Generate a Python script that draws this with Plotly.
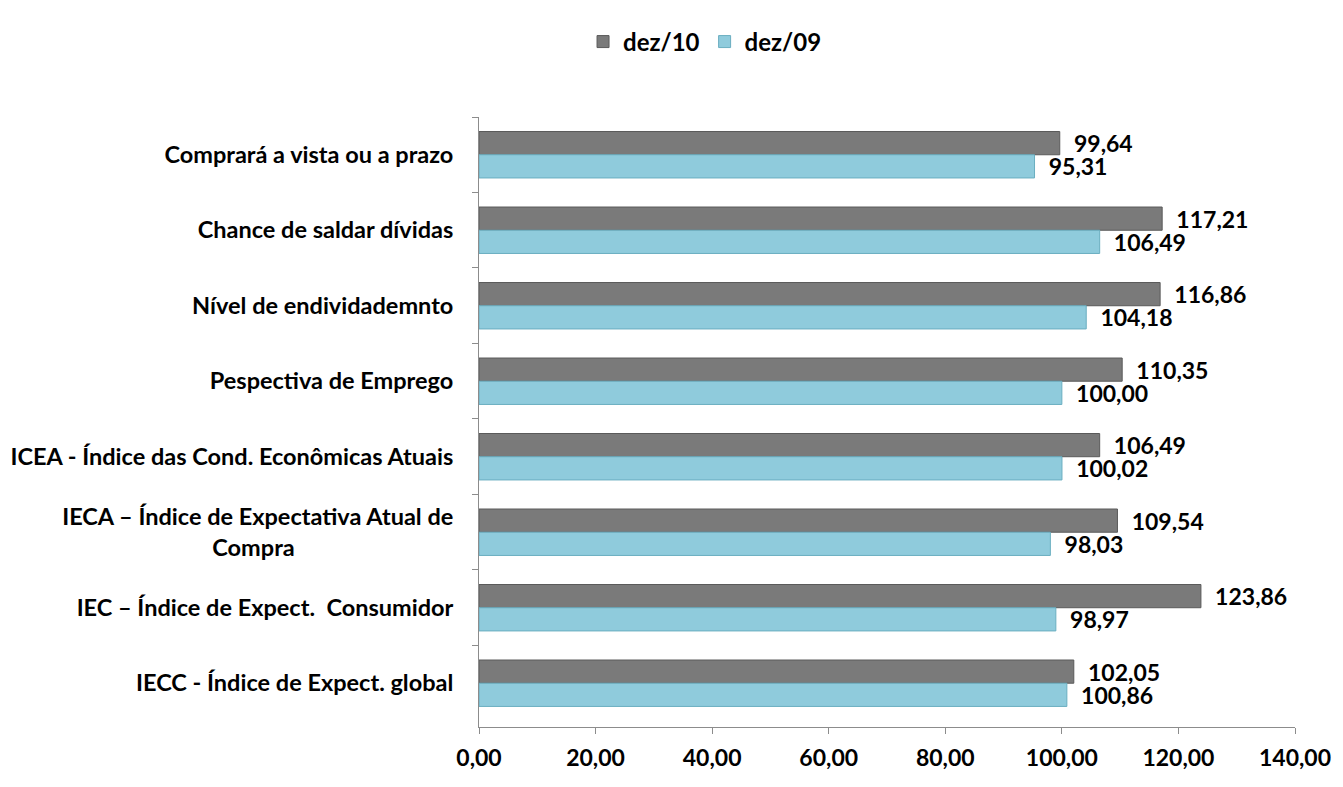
import plotly.graph_objects as go

categories = [
    "Comprará a vista ou a prazo",
    "Chance de saldar dívidas",
    "Nível de endividademnto",
    "Pespectiva de Emprego",
    "ICEA - Índice das Cond. Econômicas Atuais",
    "IECA – Índice de Expectativa Atual de<br>Compra" + "\u2003" * 9,
    "IEC – Índice de Expect.  Consumidor",
    "IECC - Índice de Expect. global",
]
dez10 = [99.64, 117.21, 116.86, 110.35, 106.49, 109.54, 123.86, 102.05]
dez09 = [95.31, 106.49, 104.18, 100.00, 100.02, 98.03, 98.97, 100.86]
x_ticks = [0, 20, 40, 60, 80, 100, 120, 140]

FONT = "Lato"
GRAY = "#7a7a7a"
BLUE = "#8fcbdc"

fig = go.Figure()
fig.add_trace(go.Bar(
    name="dez/10", y=categories, x=dez10, orientation="h",
    marker=dict(color=GRAY, line=dict(color="#5a5a5a", width=1)),
    texttemplate="\u00a0\u00a0%{x:.2f}", textposition="outside", cliponaxis=False,
    constraintext="none",
    textfont=dict(family=FONT, size=23, color="black", weight="bold"),
))
fig.add_trace(go.Bar(
    name="dez/09", y=categories, x=dez09, orientation="h",
    marker=dict(color=BLUE, line=dict(color="#6aaec0", width=1)),
    texttemplate="\u00a0\u00a0%{x:.2f}", textposition="outside", cliponaxis=False,
    constraintext="none",
    textfont=dict(family=FONT, size=23, color="black", weight="bold"),
))

# body of the page has an 8px margin, so the figure is 8px smaller than the window
fig.update_layout(
    width=1335, height=779,
    margin=dict(l=471, r=48, t=109, b=60),
    paper_bgcolor="white", plot_bgcolor="white",
    barmode="group", bargap=0.385, bargroupgap=0.0,
    separators=",.",
    font=dict(family=FONT, size=23.5, color="black"),
    legend=dict(orientation="h", x=0.277, y=1.123, xanchor="center", yanchor="middle",
                font=dict(family=FONT, size=24, color="black", weight="bold"),
                itemwidth=30, tracegroupgap=0),
    xaxis=dict(range=[0, 140], tickvals=x_ticks, tickformat=".2f", automargin=False,
               showgrid=False, zeroline=False, showline=True, linecolor="#8c8c8c", linewidth=1,
               ticks="outside", ticklen=6, tickcolor="#8c8c8c", ticklabelstandoff=4,
               tickfont=dict(family=FONT, size=23, color="black", weight="bold")),
    yaxis=dict(type="category", range=[7.58, -0.5], automargin=False, showgrid=False,
               showline=True, linecolor="#8c8c8c", linewidth=1,
               ticks="outside", tickson="boundaries", ticklen=6, tickcolor="#8c8c8c",
               ticklabelstandoff=20,
               tickfont=dict(family=FONT, size=23.5, color="black", weight="bold")),
)

fig.write_html("out.html")
